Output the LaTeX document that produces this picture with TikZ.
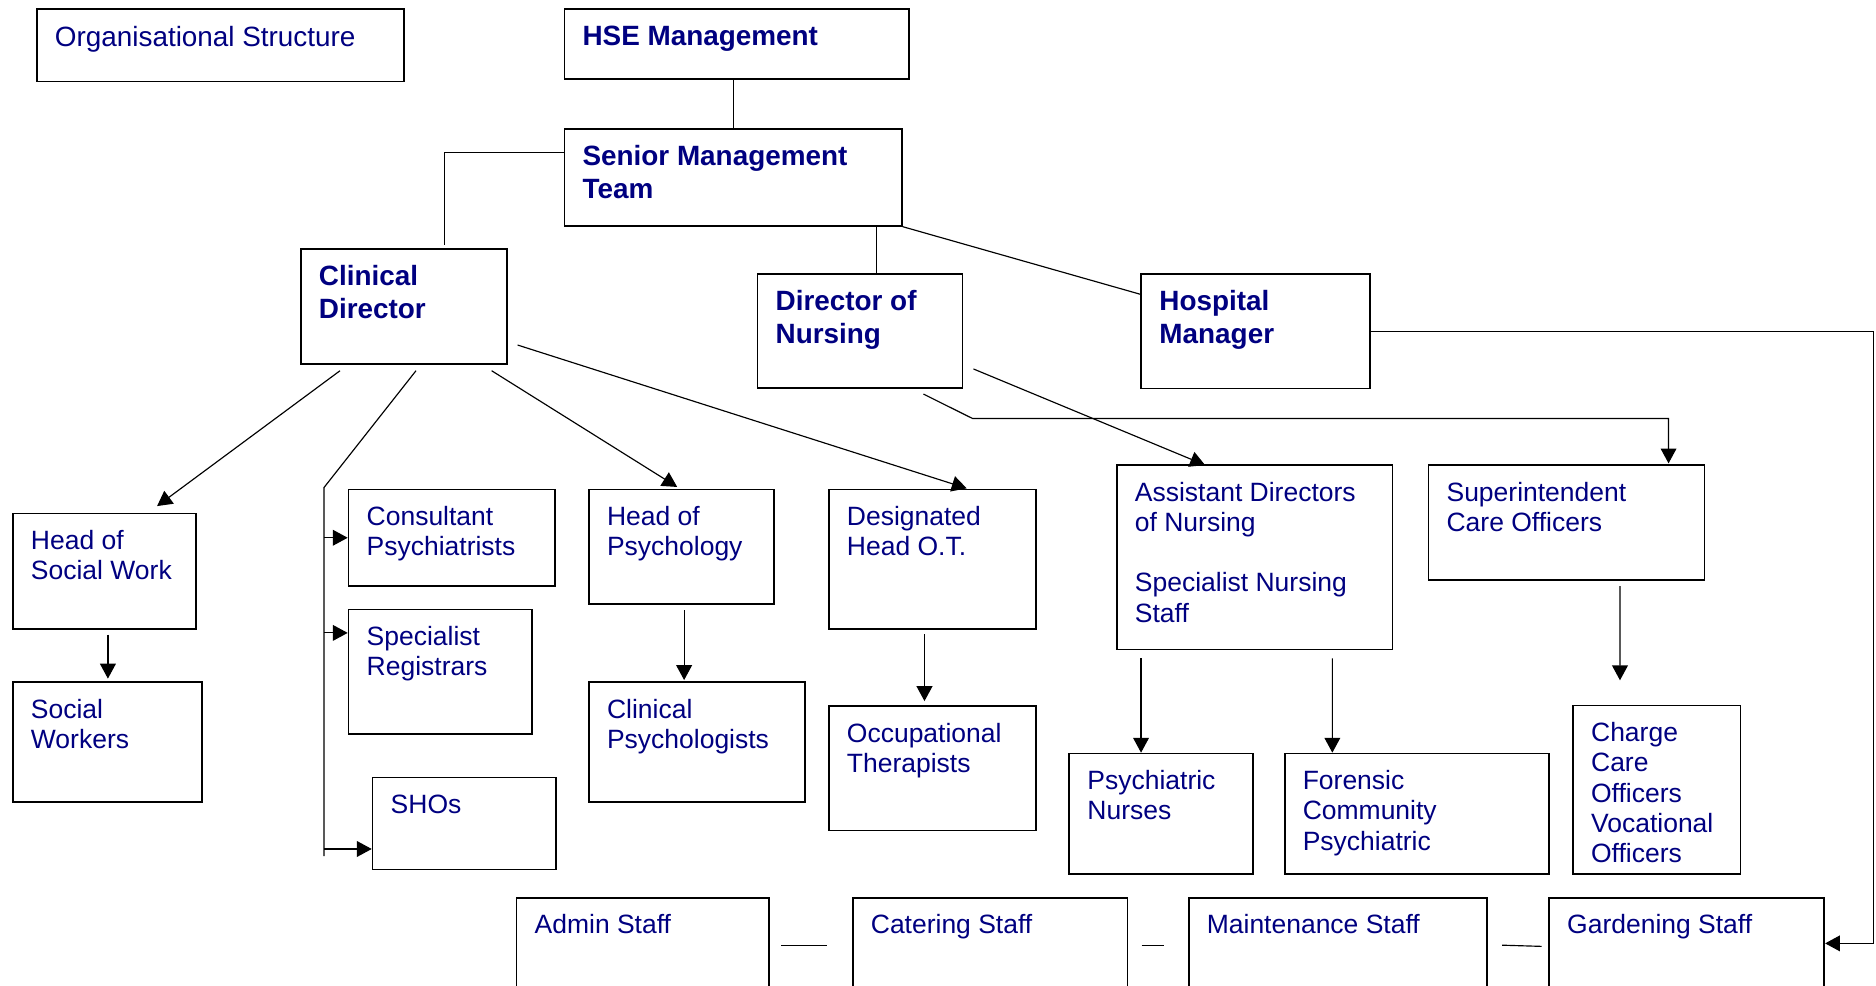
\documentclass[tikz,border=0pt]{standalone}
\usepackage{fontspec}
\setmainfont{Liberation Sans}
\usetikzlibrary{arrows.meta}

\definecolor{org_navy}{HTML}{000080}
\newcommand{\orgpx}{0.515pt}
\tikzstyle{org_box}=[rectangle,
                       draw=black,
                       line width=0.75pt,
                       inner sep=0pt,
                       anchor=north west, ]
\tikzstyle{org_text}=[anchor=north west,
                        inner sep=0pt,
                        align=left,
                        text=org_navy,
                        font=\fontsize{11.4}{13}\selectfont,
                        shift={(15.5, 14.5)}, ]
\tikzstyle{org_head}=[org_text,
                        font=\fontsize{12}{14.2}\selectfont\bfseries,
                        shift={(0, -0.5)}, ]
\tikzstyle{org_line}=[draw=black, line width=0.5pt]
\tikzstyle{org_arrow}=[org_line, -{Triangle[length=6.4pt, width=6.8pt]}]

\begin{document}
\begin{tikzpicture}[x=\orgpx, y=-\orgpx]
  \useasboundingbox (0, 0) rectangle (1568, 824);
  \clip (0, 0) rectangle (1568, 824);

  % Management
  % -------------------------------------------------------------
  \node at (30, 7) (org_title) [org_box, minimum width=306.7*\orgpx, minimum height=60.4*\orgpx] {};
  \node at (org_title.north west) (org_title_t) [org_text, font=\fontsize{12}{13.2}\selectfont] {Organisational Structure};
  \node at (471, 7) (hse) [org_box, minimum width=288*\orgpx, minimum height=58.5*\orgpx] {};
  \node at (hse.north west) (hse_t) [org_head] {HSE Management};
  \node at (471, 107.3) (smt) [org_box, minimum width=282*\orgpx, minimum height=80.7*\orgpx] {};
  \node at (smt.north west) (smt_t) [org_head] {Senior Management\\Team};
  \node at (250.7, 207.6) (clin_dir) [org_box, minimum width=172.5*\orgpx, minimum height=95.8*\orgpx] {};
  \node at (clin_dir.north west) (clin_dir_t) [org_head] {Clinical\\Director};
  \node at (632.4, 228) (nurse_dir) [org_box, minimum width=171.4*\orgpx, minimum height=95.7*\orgpx] {};
  \node at (nurse_dir.north west) (nurse_dir_t) [org_head] {Director of\\Nursing};
  \node at (953.2, 228) (hosp_man) [org_box, minimum width=191.4*\orgpx, minimum height=96*\orgpx] {};
  \node at (hosp_man.north west) (hosp_man_t) [org_head] {Hospital\\Manager};

  % Clinical side
  % -------------------------------------------------------------
  \node at (10, 428.5) (head_sw) [org_box, minimum width=153.3*\orgpx, minimum height=96.5*\orgpx] {};
  \node at (head_sw.north west) (head_sw_t) [org_text] {Head of\\Social Work};
  \node at (10, 569.2) (soc_work) [org_box, minimum width=157.9*\orgpx, minimum height=100.6*\orgpx] {};
  \node at (soc_work.north west) (soc_work_t) [org_text] {Social\\Workers};
  \node at (290.6, 408.5) (cons_psy) [org_box, minimum width=172.4*\orgpx, minimum height=80.5*\orgpx] {};
  \node at (cons_psy.north west) (cons_psy_t) [org_text] {Consultant\\Psychiatrists};
  \node at (290.6, 508.8) (spec_reg) [org_box, minimum width=153.4*\orgpx, minimum height=103.8*\orgpx] {};
  \node at (spec_reg.north west) (spec_reg_t) [org_text] {Specialist\\Registrars};
  \node at (310.7, 649.2) (shos) [org_box, minimum width=153.3*\orgpx, minimum height=76.8*\orgpx] {};
  \node at (shos.north west) (shos_t) [org_text] {SHOs};
  \node at (491.5, 408.5) (head_psy) [org_box, minimum width=154.9*\orgpx, minimum height=95.8*\orgpx] {};
  \node at (head_psy.north west) (head_psy_t) [org_text] {Head of\\Psychology};
  \node at (491.5, 569.2) (clin_psy) [org_box, minimum width=180.5*\orgpx, minimum height=100.6*\orgpx] {};
  \node at (clin_psy.north west) (clin_psy_t) [org_text] {Clinical\\Psychologists};
  \node at (692, 408.5) (head_ot) [org_box, minimum width=173*\orgpx, minimum height=116.5*\orgpx] {};
  \node at (head_ot.north west) (head_ot_t) [org_text] {Designated\\Head O.T.};
  \node at (692, 589.3) (occ_ther) [org_box, minimum width=173*\orgpx, minimum height=104.2*\orgpx] {};
  \node at (occ_ther.north west) (occ_ther_t) [org_text] {Occupational\\Therapists};

  % Nursing side
  % -------------------------------------------------------------
  \node at (932.7, 388) (asst_dir) [org_box, minimum width=230.5*\orgpx, minimum height=154.2*\orgpx] {};
  \node at (asst_dir.north west) (asst_dir_t) [org_text] {Assistant Directors\\of Nursing\\[13pt]Specialist Nursing\\Staff};
  \node at (1193.2, 388) (supt_care) [org_box, minimum width=230.6*\orgpx, minimum height=96.2*\orgpx] {};
  \node at (supt_care.north west) (supt_care_t) [org_text] {Superintendent\\Care Officers};
  \node at (893, 629.1) (psy_nurse) [org_box, minimum width=153.5*\orgpx, minimum height=100.9*\orgpx] {};
  \node at (psy_nurse.north west) (psy_nurse_t) [org_text] {Psychiatric\\Nurses};
  \node at (1073, 629.1) (forensic) [org_box, minimum width=221*\orgpx, minimum height=100.9*\orgpx] {};
  \node at (forensic.north west) (forensic_t) [org_text] {Forensic\\Community\\Psychiatric};
  \node at (1314, 589) (charge) [org_box, minimum width=140*\orgpx, minimum height=141*\orgpx] {};
  \node at (charge.north west) (charge_t) [org_text] {Charge\\Care\\Officers\\Vocational\\Officers};

  % Support staff
  % -------------------------------------------------------------
  \node at (431, 749.7) (admin) [org_box, minimum width=211*\orgpx, minimum height=120*\orgpx] {};
  \node at (admin.north west) (admin_t) [org_text] {Admin Staff};
  \node at (712, 749.7) (catering) [org_box, minimum width=229.7*\orgpx, minimum height=120*\orgpx] {};
  \node at (catering.north west) (catering_t) [org_text] {Catering Staff};
  \node at (992.8, 749.7) (maint) [org_box, minimum width=249.2*\orgpx, minimum height=120*\orgpx] {};
  \node at (maint.north west) (maint_t) [org_text] {Maintenance Staff};
  \node at (1294, 749.7) (garden) [org_box, minimum width=230*\orgpx, minimum height=120*\orgpx] {};
  \node at (garden.north west) (garden_t) [org_text] {Gardening Staff};

  % Connectors
  % -------------------------------------------------------------
  \draw[org_line] (hse.south -| smt.north) -- (smt.north);
  \draw[org_line] ([shift={(0, 20.3)}]smt.north west) -| ([shift={(120.6, -2.8)}]clin_dir.north west);
  \draw[org_line] ([shift={(100.2, 0)}]nurse_dir.north west) -- ++(0, -40);
  \draw[org_line] (smt.south east) -- ([shift={(0, 18)}]hosp_man.north west);

  \draw[org_arrow] ([shift={(33.5, 5)}]clin_dir.south west) -- ([shift={(121.3, -5.5)}]head_sw.north west);
  \draw[org_line] ([shift={(97, 5)}]clin_dir.south west) -- ([shift={(-19.8, -1)}]cons_psy.north west) -- ([shift={(-39.9, 66.3)}]shos.north west);
  \draw[org_arrow] ([shift={(-19.8, 0)}]cons_psy.west) -- (cons_psy.west);
  \draw[org_arrow] ([shift={(-19.8, 20.2)}]spec_reg.north west) -- ([shift={(0, 20.2)}]spec_reg.north west);
  \draw[org_arrow] ([shift={(-39.9, 60.4)}]shos.north west) -- ([shift={(0, 60.4)}]shos.north west);
  \draw[org_arrow] ([shift={(160.2, 5)}]clin_dir.south west) -- ([shift={(74.5, -1.5)}]head_psy.north west);
  \draw[org_arrow] ([shift={(8, 80.8)}]clin_dir.north east) -- ([shift={(116, -0.3)}]head_ot.north west);

  \draw[org_arrow] ([shift={(80.2, 4)}]head_sw.south west) -- ([shift={(80.2, -2)}]soc_work.north west);
  \draw[org_arrow] ([shift={(80.3, 4.2)}]head_psy.south west) -- ([shift={(80.3, -0.8)}]clin_psy.north west);
  \draw[org_arrow] ([shift={(80.7, 3.8)}]head_ot.south west) -- ([shift={(80.7, -3.3)}]occ_ther.north west);

  \draw[org_arrow] ([shift={(8.4, 80.4)}]nurse_dir.north east) -- ([shift={(74.5, 0.7)}]asst_dir.north west);
  \draw[org_arrow] ([shift={(139.4, 4.2)}]nurse_dir.south west) -- ++(41, 20.4) -| ([shift={(201.4, -0.7)}]supt_care.north west);
  \draw[org_arrow] (hosp_man.east) -- ++(419.6, 0) |- ([shift={(0, 38.8)}]garden.north east);

  \draw[org_arrow] ([shift={(21, 6.7)}]asst_dir.south west) -- ([shift={(60.7, 0)}]psy_nurse.north west);
  \draw[org_arrow] ([shift={(180.9, 6.7)}]asst_dir.south west) -- ([shift={(40.6, 0)}]forensic.north west);
  \draw[org_arrow] ([shift={(160.8, 4.2)}]supt_care.south west) -- ([shift={(40, -20.4)}]charge.north west);

  \draw[org_line] ([shift={(9.4, 40.3)}]admin.north east) -- ([shift={(-20.5, 40.3)}]catering.north west);
  \draw[org_line] ([shift={(11, 40.3)}]catering.north east) -- ([shift={(-20, 40.3)}]maint.north west);
  \draw[org_line] ([shift={(12, 40.3)}]maint.north east) -- ([shift={(-5.5, 41.3)}]garden.north west);
\end{tikzpicture}
\end{document}
